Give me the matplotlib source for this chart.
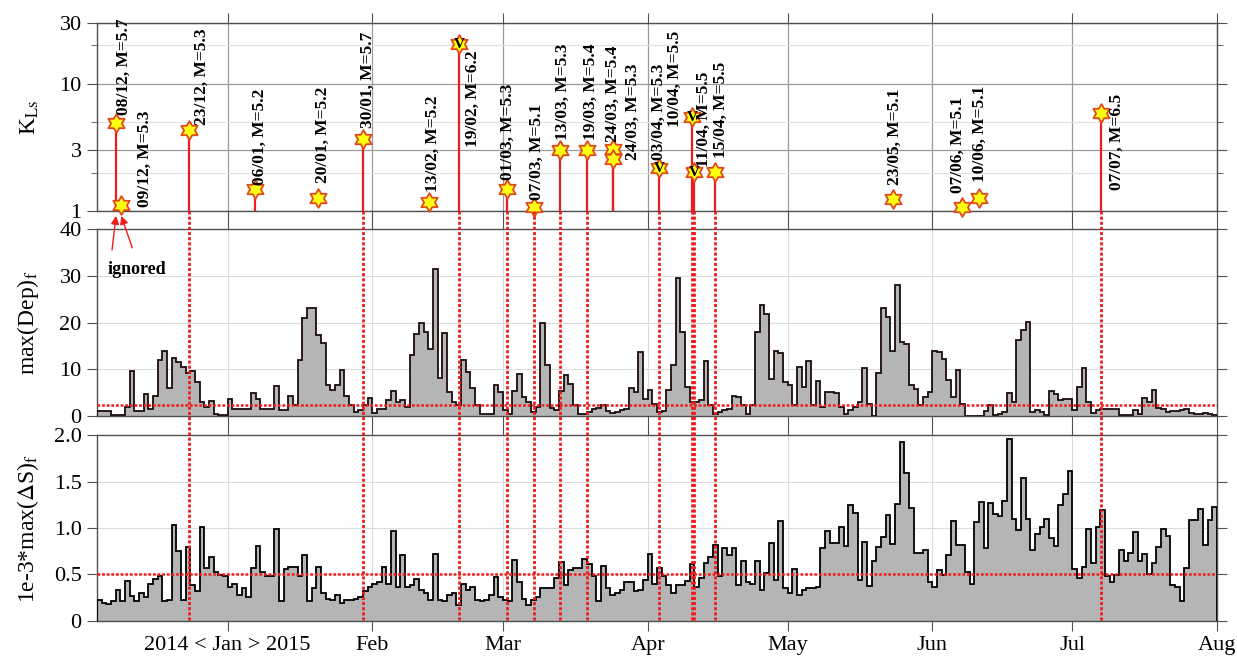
import numpy as np
import pandas as pd
import matplotlib
matplotlib.use('Agg')
import matplotlib.pyplot as plt
import matplotlib.dates as mdates
from matplotlib.transforms import blended_transform_factory
from matplotlib.path import Path
from matplotlib.lines import Line2D
from matplotlib.ticker import FixedLocator, NullFormatter

plt.rcParams['font.family'] = ['Liberation Serif', 'DejaVu Serif']
plt.rcParams['mathtext.fontset'] = 'stix'

# ---------------- data ----------------
event_times = ['2014-12-08 02:00', '2014-12-09 05:00', '2014-12-23 19:00', '2015-01-06 19:00',
               '2015-01-20 10:00', '2015-01-30 02:00', '2015-02-13 05:00', '2015-02-19 14:00',
               '2015-03-01 22:00', '2015-03-07 14:00', '2015-03-13 07:00', '2015-03-19 02:00',
               '2015-03-24 12:00', '2015-03-24 12:00', '2015-04-03 10:00', '2015-04-10 12:00',
               '2015-04-11 01:00', '2015-04-15 10:00', '2015-05-23 14:00', '2015-06-07 11:00',
               '2015-06-10 22:00', '2015-07-07 05:00']
event_mag = [5.7, 5.3, 5.3, 5.2, 5.2, 5.7, 5.2, 6.2, 5.3, 5.1, 5.3, 5.4, 5.4, 5.3, 5.3, 5.5,
             5.5, 5.5, 5.1, 5.1, 5.1, 6.5]
event_K = [4.9, 1.11, 4.3, 1.49, 1.27, 3.7, 1.18, 20.6, 1.49, 1.07, 3.0, 3.0, 3.05, 2.56, 2.18,
           5.5, 2.03, 2.03, 1.24, 1.07, 1.26, 5.9]
event_stem = [1, 1, 1, 1, 0, 1, 0, 1, 1, 1, 1, 1, 1, 1, 1, 1, 1, 1, 0, 0, 0, 1]
event_dotted = [0, 0, 1, 0, 0, 1, 0, 1, 1, 1, 1, 1, 0, 0, 1, 1, 1, 1, 0, 0, 0, 1]
event_check = [0, 0, 0, 0, 0, 0, 0, 1, 0, 0, 0, 0, 0, 0, 1, 1, 1, 0, 0, 0, 0, 0]
event_ignored = [1, 1] + [0] * 20

dep_dec = [1.0, 1.0, 1.0, 0.3, 0.3, 0.3, 2.0, 9.6, 1.0, 1.0, 4.6, 1.5, 4.3, 12.0, 14.0, 6.0,
           12.4, 11.6, 10.5, 9.2, 9.6, 7.3, 3.0, 2.0, 3.2, 0.5, 0.3, 0.3]
dep_jan = [3.6, 1.5, 1.5, 1.5, 1.5, 5.0, 3.7, 1.5, 1.5, 1.5, 6.4, 1.2, 1.2, 4.3, 2.3, 12.0,
           21.0, 23.0, 23.2, 17.3, 15.7, 6.7, 5.6, 6.7, 9.8, 4.3, 2.3, 0.9, 1.2, 2.3, 3.9]
dep_feb = [0.7, 1.5, 1.5, 3.5, 5.3, 3.0, 3.5, 2.0, 13.0, 17.6, 19.8, 18.0, 14.3, 31.4, 8.2,
           17.8, 5.1, 2.9, 2.3, 12.0, 9.4, 6.0, 2.3, 0.5, 0.5, 0.5, 6.6, 5.1]
dep_mar = [1.2, 0.5, 5.4, 9.0, 4.0, 3.0, 0.9, 2.0, 20.0, 10.9, 1.7, 1.2, 5.4, 8.7, 6.9, 2.3,
           0.5, 0.5, 0.9, 1.6, 1.7, 2.4, 1.0, 0.7, 0.9, 1.2, 1.4, 5.9, 5.1, 13.6, 3.7]
dep_apr = [5.6, 2.6, 0.9, 1.0, 5.6, 11.0, 29.6, 17.9, 6.2, 3.0, 3.1, 3.4, 11.7, 2.3, 0.5, 0.9,
           1.2, 1.6, 4.3, 4.1, 2.3, 0.5, 2.3, 18.0, 23.7, 21.9, 7.9, 13.9, 13.5, 7.3]
dep_may = [6.6, 2.3, 10.5, 6.2, 11.7, 2.3, 7.5, 2.0, 5.1, 5.1, 4.9, 2.0, 0.5, 1.2, 2.0, 3.1,
           10.3, 2.6, 0.1, 9.2, 23.0, 21.2, 13.9, 28.0, 15.9, 15.5, 6.6, 5.7, 2.3, 4.1, 5.1]
dep_jun = [13.9, 13.7, 12.3, 7.8, 4.1, 9.8, 2.6, 0.1, 0.1, 0.1, 0.1, 1.0, 2.3, 0.3, 0.5, 0.9,
           4.9, 3.0, 16.2, 18.4, 20.1, 0.9, 1.2, 0.9, 0.3, 5.4, 4.6, 3.4, 3.6, 3.6]
dep_jul = [1.2, 6.1, 10.3, 3.0, 0.7, 1.2, 1.6, 1.4, 1.6, 1.6, 0.3, 0.3, 0.3, 1.2, 0.5, 3.9,
           3.0, 5.5, 1.8, 1.4, 0.9, 1.0, 1.0, 1.2, 1.4, 0.7, 0.5, 0.5, 0.7, 0.5, 0.3]

ds_dec = [0.23, 0.19, 0.18, 0.21, 0.33, 0.21, 0.43, 0.27, 0.21, 0.30, 0.26, 0.40, 0.45, 0.48,
          0.21, 0.23, 1.03, 0.75, 0.23, 0.80, 0.39, 0.32, 1.01, 0.57, 0.69, 0.53, 0.49, 0.48]
ds_jan = [0.37, 0.40, 0.28, 0.35, 0.26, 0.57, 0.81, 0.53, 0.48, 0.48, 0.99, 0.21, 0.56, 0.58,
          0.58, 0.48, 0.71, 0.21, 0.35, 0.58, 0.30, 0.24, 0.23, 0.28, 0.19, 0.23, 0.23, 0.24,
          0.26, 0.32, 0.37]
ds_feb = [0.40, 0.42, 0.58, 0.40, 0.97, 0.37, 0.71, 0.37, 0.39, 0.45, 0.33, 0.30, 0.23, 0.72,
          0.23, 0.21, 0.28, 0.30, 0.17, 0.40, 0.33, 0.37, 0.23, 0.21, 0.23, 0.28, 0.47, 0.26]
ds_mar = [0.23, 0.21, 0.66, 0.42, 0.24, 0.17, 0.23, 0.26, 0.36, 0.35, 0.35, 0.46, 0.63, 0.39,
          0.55, 0.57, 0.57, 0.67, 0.61, 0.48, 0.21, 0.59, 0.35, 0.28, 0.30, 0.33, 0.42, 0.42,
          0.32, 0.33, 0.44]
ds_apr = [0.72, 0.40, 0.57, 0.48, 0.39, 0.30, 0.39, 0.39, 0.43, 0.61, 0.37, 0.46, 0.62, 0.69,
          0.82, 0.48, 0.78, 0.71, 0.78, 0.39, 0.64, 0.42, 0.40, 0.64, 0.33, 0.52, 0.84, 0.44,
          1.08, 0.35]
ds_may = [0.30, 0.56, 0.28, 0.33, 0.35, 0.35, 0.37, 0.79, 0.97, 0.84, 0.84, 1.01, 0.81, 1.25,
          1.16, 0.44, 0.85, 0.38, 0.64, 0.80, 0.90, 1.14, 0.83, 1.26, 1.93, 1.59, 1.22, 0.73,
          0.73, 0.76, 0.42]
ds_jun = [0.37, 0.55, 0.49, 0.71, 1.08, 0.82, 0.82, 0.53, 0.40, 1.06, 1.28, 0.79, 1.27, 1.15,
          1.13, 1.29, 1.96, 1.10, 0.98, 1.54, 1.10, 0.76, 0.94, 1.01, 1.10, 0.89, 0.81, 1.25,
          1.37, 1.61]
ds_jul = [0.56, 0.46, 0.58, 0.99, 0.62, 1.01, 1.19, 0.48, 0.42, 0.49, 0.76, 0.64, 0.73, 0.96,
          0.64, 0.72, 0.51, 0.62, 0.80, 0.99, 0.91, 0.39, 0.37, 0.21, 0.57, 1.09, 1.09, 1.20,
          0.82, 1.09, 1.23]

dep_threshold = 2.4
ds_threshold = 0.5

series_start = '2014-12-04'
series_end = '2015-08-01'
month_ticks = ['2015-01-01', '2015-02-01', '2015-03-01', '2015-04-01', '2015-05-01',
               '2015-06-01', '2015-07-01', '2015-08-01']
month_labels = ['2014 < Jan > 2015', 'Feb', 'Mar', 'Apr', 'May', 'Jun', 'Jul', 'Aug']

# label placement (pixels, relative to star centre) -- layout only
label_offsets = [(8, 8), (24, -2), (13, 5), (5, 4), (5, 15), (5, 11), (4, 10), (14, -103),
                 (1, 9), (3, 7), (3, 10), (4, 10), (0, 7), (20, -1), (0, 8), (-17, -10),
                 (9, 5), (6, 14), (2, 14), (-5, 14), (1, 16), (16, -77)]
arrow_tails = [(-4, -34), (11, -32)]

# ---------------- derived ----------------
dep = np.array(dep_dec + dep_jan + dep_feb + dep_mar + dep_apr + dep_may + dep_jun + dep_jul)
ds = np.array(ds_dec + ds_jan + ds_feb + ds_mar + ds_apr + ds_may + ds_jun + ds_jul)
edges = mdates.date2num(pd.date_range(series_start, series_end, freq='D').to_pydatetime())
ex = mdates.date2num(pd.to_datetime(event_times).to_pydatetime())
mt = mdates.date2num(pd.to_datetime(month_ticks).to_pydatetime())
xlim = (edges[0], edges[-1])

# ---------------- figure ----------------
fig = plt.figure(figsize=(12.37, 6.6), dpi=100)
L, W = 0.0784, 0.9054
pos1 = [L, 0.6803, W, 0.2848]
pos2 = [L, 0.3697, W, 0.2833]
pos3 = [L, 0.0591, W, 0.2818]
ax1 = fig.add_axes(pos1)
ax2 = fig.add_axes(pos2)
ax3 = fig.add_axes(pos3)
ax1.set_zorder(3)

spine_col = '#505050'
red = '#ee1c1c'
dot_ls = (0, (1.1, 0.75))

for ax in (ax1, ax2, ax3):
    ax.set_xlim(*xlim)
    ax.xaxis.set_major_locator(FixedLocator(mt))
    ax.tick_params(axis='both', which='both', direction='out', top=True, right=True,
                   labelsize=16, length=7, pad=4, color=spine_col)
    ax.tick_params(axis='both', which='minor', length=4)
    for s in ax.spines.values():
        s.set_color(spine_col)
        s.set_linewidth(1.0)
    ax.set_axisbelow(True)

# ---- top panel ----
ax1.set_yscale('log')
ax1.set_ylim(1, 30)
ax1.yaxis.set_major_locator(FixedLocator([1, 3, 10, 30]))
ax1.set_yticklabels(['1', '3', '10', '30'])
ax1.yaxis.set_minor_locator(FixedLocator([2, 5, 20]))
ax1.yaxis.set_minor_formatter(NullFormatter())
ax1.grid(True, which='major', color='#9a9a9a', lw=0.9)
ax1.grid(True, which='minor', axis='y', color='#e2e2e2', lw=0.8)
ax1.tick_params(labelbottom=False)
ax1.set_ylabel(r'K$_{\mathrm{Ls}}$', fontsize=17)
ax1.yaxis.set_label_coords(-0.050, 0.5)

k = np.arange(12)
ang = np.pi / 2 + k * np.pi / 6
r = np.where(k % 2 == 0, 1.0, 0.58)
verts = np.column_stack([r * np.cos(ang), r * np.sin(ang)])
verts = np.vstack([verts, verts[:1]])
star = Path(verts, [Path.MOVETO] + [Path.LINETO] * 11 + [Path.CLOSEPOLY])

for xi, K, st in zip(ex, event_K, event_stem):
    if st:
        ax1.vlines(xi, 1, K, color=red, lw=1.6, zorder=3)

ax1.plot(ex, event_K, linestyle='none', marker=star, ms=13.5, mfc='#ffff14', mec='#e4471b',
         mew=1.3, clip_on=False, zorder=5)

for xi, K, t, m, off, chk in zip(ex, event_K, event_times, event_mag, label_offsets, event_check):
    lab = pd.Timestamp(t).strftime('%d/%m') + ', M=%.1f' % m
    ax1.annotate(lab, xy=(xi, K), xytext=off, textcoords='offset pixels', rotation=90,
                 ha='center', va='bottom', fontsize=12.5, fontweight='bold',
                 annotation_clip=False, zorder=6)
    if chk:
        ax1.annotate('V', xy=(xi, K), xytext=(0, -1), textcoords='offset pixels',
                     ha='center', va='center', fontsize=11, fontweight='bold',
                     color='black', zorder=7, annotation_clip=False)

ia = 0
for xi, ig in zip(ex, event_ignored):
    if ig:
        ax1.annotate('', xy=(xi, 0.915), xytext=arrow_tails[ia], textcoords='offset pixels',
                     arrowprops=dict(arrowstyle='-|>', color=red, lw=1.0, mutation_scale=12,
                                     shrinkA=0, shrinkB=0),
                     annotation_clip=False)
        ia += 1

# ---- middle panel ----
ax2.stairs(dep, edges, fill=True, color='#b5b5b5', zorder=2)
ax2.stairs(dep, edges, color='#1c0c0c', lw=1.3, zorder=3)
ax2.set_ylim(0, 40)
ax2.set_yticks([0, 10, 20, 30, 40])
ax2.grid(True, color='#dcdcdc', lw=0.8)
ax2.axhline(dep_threshold, color=red, ls=dot_ls, lw=1.8, zorder=4)
ax2.tick_params(labelbottom=False)
ax2.set_ylabel(r'max(Dep)$_{\mathrm{f}}$', fontsize=17)
ax2.yaxis.set_label_coords(-0.050, 0.5)
ax2.text(0.0098, 0.786, 'ignored', transform=ax2.transAxes, ha='left', va='center',
         fontsize=13, fontweight='bold')

# ---- bottom panel ----
ax3.stairs(ds, edges, fill=True, color='#b5b5b5', zorder=2)
ax3.stairs(ds, edges, color='black', lw=1.3, zorder=3)
ax3.set_ylim(0, 2)
ax3.set_yticks([0, 0.5, 1.0, 1.5, 2.0])
ax3.set_yticklabels(['0', '0.5', '1.0', '1.5', '2.0'])
ax3.grid(True, color='#dcdcdc', lw=0.8)
ax3.axhline(ds_threshold, color=red, ls=dot_ls, lw=1.8, zorder=4)
ax3.set_xticklabels(month_labels)
ax3.set_ylabel(r'1e-3*max($\Delta$S)$_{\mathrm{f}}$', fontsize=17)
ax3.yaxis.set_label_coords(-0.050, 0.5)

# ---- dotted connectors through the lower panels ----
trans = blended_transform_factory(ax1.transData, fig.transFigure)
for xi, d in zip(ex, event_dotted):
    if d:
        fig.add_artist(Line2D([xi, xi], [pos1[1], pos3[1]], transform=trans, color=red,
                              ls=dot_ls, lw=2.0, zorder=10))

fig.savefig('out.png', dpi=100)
